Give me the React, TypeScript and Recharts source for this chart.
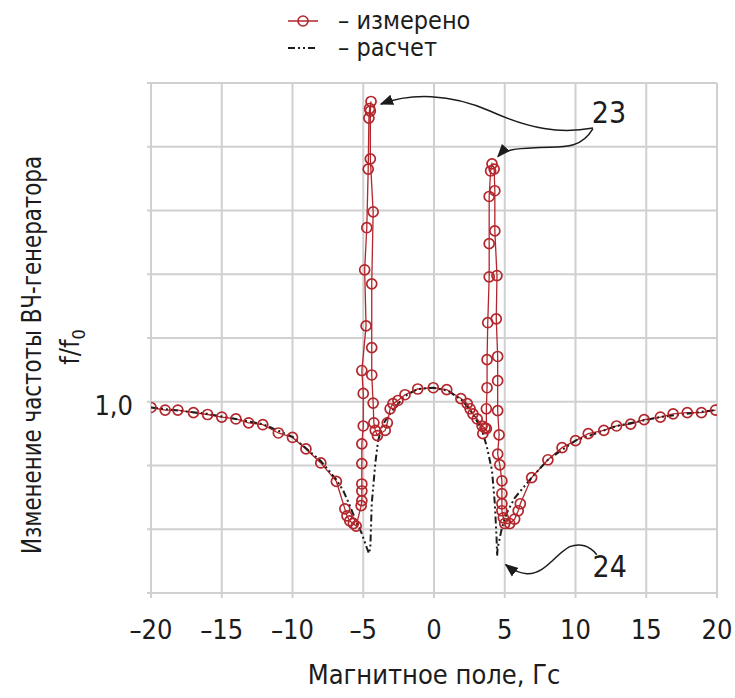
import React from 'react';
import {
  ComposedChart,
  Line,
  XAxis,
  YAxis,
  CartesianGrid,
  ReferenceDot,
} from 'recharts';

const FONT = "'Liberation Sans Narrow', 'DejaVu Sans Condensed', 'Open Sans', sans-serif";
const RED = '#b3262c';
const INK = '#1c1c1c';

// magnetic field, Gs
const xTicks = [-20, -15, -10, -5, 0, 5, 10, 15, 20];
// f/f0, only 1,0 is labelled
const yTicks = [0.7, 0.8, 0.9, 1.0, 1.1, 1.2, 1.3, 1.4, 1.5];

// measured points, in sweep order (-20 -> +20)
const measuredX = [
  -20.0, -19.0, -18.1, -17.0, -16.0, -15.0, -14.0, -13.1, -12.1, -11.0, -10.0, -9.05, -8.0, -6.9,
  -6.3, -6.15, -5.95, -5.7, -5.5,
  -5.15, -5.1, -5.1, -5.1, -5.1, -5.1, -5.0, -5.0, -5.1, -4.8, -4.9, -4.75, -4.65, -4.6, -4.55, -4.45,
  -4.5, -4.5, -4.3, -4.4, -4.4, -4.4, -4.3, -4.25, -4.15, -4.0,
  -3.45, -3.3, -3.1, -2.9, -2.55, -2.05, -1.15, -0.05, 0.9, 1.9, 2.35, 2.55, 2.75, 3.05, 3.4, 3.6, 3.45,
  3.7, 3.7, 3.75, 3.75, 3.8, 3.9, 3.9, 3.9, 4.0, 4.1,
  4.25, 4.3, 4.3, 4.45, 4.4, 4.5, 4.5, 4.5, 4.6, 4.5, 4.65, 4.8, 4.8, 4.8, 4.8, 4.9, 5.0,
  5.35, 5.7, 5.95, 6.1, 6.9, 8.05, 9.05, 10.0, 10.9, 12.0, 12.9, 13.9, 14.85, 16.0, 16.9, 17.9, 18.9, 19.9,
];
const measuredY = [
  0.991, 0.987, 0.987, 0.983, 0.98, 0.976, 0.973, 0.967, 0.964, 0.951, 0.944, 0.926, 0.904, 0.875,
  0.832, 0.821, 0.813, 0.809, 0.805,
  0.837, 0.845, 0.86, 0.871, 0.903, 0.934, 0.962, 1.013, 1.049, 1.119, 1.207, 1.273, 1.365, 1.445, 1.46, 1.471,
  1.456, 1.381, 1.298, 1.185, 1.085, 1.042, 0.998, 0.967, 0.955, 0.947,
  0.955, 0.967, 0.989, 0.997, 1.002, 1.011, 1.02, 1.022, 1.019, 1.005, 0.997, 0.989, 0.981, 0.973, 0.962, 0.959, 0.95,
  0.958, 0.989, 1.022, 1.066, 1.124, 1.196, 1.248, 1.322, 1.362, 1.373,
  1.365, 1.331, 1.268, 1.198, 1.13, 1.071, 1.033, 0.986, 0.948, 0.918, 0.901, 0.876, 0.856, 0.84, 0.829, 0.818, 0.809,
  0.809, 0.816, 0.829, 0.84, 0.881, 0.909, 0.928, 0.939, 0.95, 0.955, 0.962, 0.965, 0.972, 0.976, 0.981, 0.983, 0.983, 0.987,
];

// calculated curve
const calcX = [
  -20, -16.0, -12.1, -10.0, -8.0, -6.9, -6.4, -5.95, -5.6, -5.1, -4.75, -4.6,
  -4.5, -4.4, -4.15, -3.95, -3.6, -2.95, -2.05, -1.15, -0.05, 1.0, 2.0, 2.75, 3.4, 3.75, 4.1, 4.3, 4.42, 4.46,
  4.5, 4.8, 5.15, 5.7, 6.9, 8.05, 10.0, 12.9, 16.0, 19.9,
];
const calcY = [
  0.991, 0.981, 0.965, 0.945, 0.907, 0.878, 0.86, 0.837, 0.818, 0.793, 0.771, 0.762,
  0.771, 0.84, 0.903, 0.939, 0.965, 0.986, 1.009, 1.02, 1.022, 1.017, 1.002, 0.981, 0.955, 0.928, 0.892, 0.84, 0.787, 0.758,
  0.771, 0.802, 0.826, 0.849, 0.881, 0.909, 0.939, 0.962, 0.976, 0.987,
];

const measured = measuredX.map((x, i) => ({ x, y: measuredY[i] }));
const calc = calcX.map((x, i) => ({ x, y: calcY[i] }));

const fmtX = (v: number) => (v < 0 ? `–${Math.abs(v)}` : `${v}`);

const XTick = (props: any) => {
  const { x, y, payload } = props;
  return (
    <text x={x} y={y} dy={39} textAnchor="middle" fontFamily={FONT} fontSize={27} fill={INK}>
      {fmtX(payload.value)}
    </text>
  );
};

const YTick = (props: any) => {
  const { x, y, payload } = props;
  if (payload.value !== 1.0) return <g />;
  return (
    <text x={x} y={y} dx={-12} dy={13} textAnchor="end" fontFamily={FONT} fontSize={27} fill={INK}>
      1,0
    </text>
  );
};

const XLabel = (props: any) => {
  const vb = props.viewBox;
  return (
    <text
      x={vb.x + vb.width / 2}
      y={vb.y + 91}
      textAnchor="middle"
      fontFamily={FONT}
      fontSize={27}
      fill={INK}
    >
      Магнитное поле, Гс
    </text>
  );
};

const YLabel = (props: any) => {
  const vb = props.viewBox;
  const cy = vb.y + vb.height / 2;
  const x1 = vb.x - 50;
  const y1 = cy + 17;
  const x2 = vb.x - 12;
  const y2 = cy + 9;
  return (
    <g fontFamily={FONT} fill={INK}>
      <text
        x={x1}
        y={y1}
        textAnchor="middle"
        fontSize={27}
        textLength={398}
        lengthAdjust="spacingAndGlyphs"
        transform={`rotate(-90, ${x1}, ${y1})`}
      >
        Изменение частоты ВЧ-генератора
      </text>
      <text x={x2} y={y2} textAnchor="middle" fontSize={27} transform={`rotate(-90, ${x2}, ${y2})`}>
        f/f<tspan fontSize={18} dy={6}>0</tspan>
      </text>
    </g>
  );
};

const ArrowHead = ({ id }: { id: string }) => (
  <defs>
    <marker id={id} viewBox="0 0 10 10" refX="9" refY="5" markerWidth="9" markerHeight="9" orient="auto-start-reverse">
      <path d="M0,1 L10,5 L0,9 z" fill={INK} />
    </marker>
  </defs>
);

// arrows drawn relative to the point they point at
const Note23Left = (props: any) => {
  const { cx, cy } = props;
  return (
    <g transform={`translate(${cx}, ${cy})`}>
      <ArrowHead id="ah1" />
      <path d="M 213,24 C 180,30 150,25 110,7 C 70,-11 30,-11 1,0" fill="none" stroke={INK} strokeWidth={1.5} markerEnd="url(#ah1)" />
      <text x={229} y={19} textAnchor="middle" fontFamily={FONT} fontSize={30} fill={INK}>23</text>
    </g>
  );
};

const Note23Right = (props: any) => {
  const { cx, cy } = props;
  return (
    <g transform={`translate(${cx}, ${cy})`}>
      <ArrowHead id="ah2" />
      <path d="M 96,-29 C 83,-7 63,-11 43,-10 C 23,-9 8,-9 1,-1" fill="none" stroke={INK} strokeWidth={1.5} markerEnd="url(#ah2)" />
    </g>
  );
};

const Note24 = (props: any) => {
  const { cx, cy } = props;
  return (
    <g transform={`translate(${cx}, ${cy})`}>
      <ArrowHead id="ah3" />
      <path d="M 92,-9 C 85,-18 75,-21 65,-17 C 50,-9 40,11 22,10 C 12,9 6,5 1,1" fill="none" stroke={INK} strokeWidth={1.5} markerEnd="url(#ah3)" />
      <text x={105} y={13} textAnchor="middle" fontFamily={FONT} fontSize={30} fill={INK}>24</text>
    </g>
  );
};

const Legend = () => (
  <div style={{ position: 'absolute', left: 284, top: 7, fontFamily: FONT, fontSize: 25, color: INK, lineHeight: 1 }}>
    <div style={{ display: 'flex', alignItems: 'center', height: 27 }}>
      <svg width={40} height={20}>
        <line x1={4} y1={10} x2={34} y2={10} stroke={RED} strokeWidth={1.5} />
        <circle cx={19} cy={10} r={5} fill="none" stroke={RED} strokeWidth={1.6} />
      </svg>
      <span style={{ marginLeft: 14 }}>– измерено</span>
    </div>
    <div style={{ display: 'flex', alignItems: 'center', height: 27 }}>
      <svg width={40} height={20}>
        <line x1={4} y1={10} x2={34} y2={10} stroke={INK} strokeWidth={2} strokeDasharray="7 3 2 3 2 3" />
      </svg>
      <span style={{ marginLeft: 14 }}>– расчет</span>
    </div>
  </div>
);

export default function App() {
  return (
    <div style={{ position: 'absolute', left: 0, top: 0, width: 735, height: 698, background: '#fff' }}>
      <ComposedChart width={735} height={698} margin={{ top: 83, right: 18, bottom: 45, left: 91 }}>
        <CartesianGrid stroke="#d0d0d0" strokeWidth={2} />
        <XAxis
          type="number"
          dataKey="x"
          domain={[-20, 20]}
          ticks={xTicks}
          allowDataOverflow
          axisLine={false}
          tickLine={{ stroke: '#d0d0d0', strokeWidth: 2 }}
          tickSize={5}
          tick={<XTick />}
          height={60}
          label={{ content: <XLabel /> }}
        />
        <YAxis
          type="number"
          dataKey="y"
          domain={[0.7, 1.5]}
          ticks={yTicks}
          allowDataOverflow
          axisLine={false}
          tickLine={{ stroke: '#d0d0d0', strokeWidth: 2 }}
          tickSize={4}
          tick={<YTick />}
          width={60}
          label={{ content: <YLabel /> }}
        />
        <Line
          data={measured}
          dataKey="y"
          type="linear"
          stroke={RED}
          strokeWidth={1.3}
          dot={{ r: 5, stroke: RED, strokeWidth: 1.7, fill: 'none' }}
          isAnimationActive={false}
        />
        <Line
          data={calc}
          dataKey="y"
          type="linear"
          stroke={INK}
          strokeWidth={2}
          strokeDasharray="7 3 2 3 2 3"
          dot={false}
          isAnimationActive={false}
        />
        <ReferenceDot x={-3.82} y={1.467} r={0} ifOverflow="visible" shape={<Note23Left />} />
        <ReferenceDot x={4.45} y={1.383} r={0} ifOverflow="visible" shape={<Note23Right />} />
        <ReferenceDot x={5.0} y={0.746} r={0} ifOverflow="visible" shape={<Note24 />} />
      </ComposedChart>
      <Legend />
    </div>
  );
}
